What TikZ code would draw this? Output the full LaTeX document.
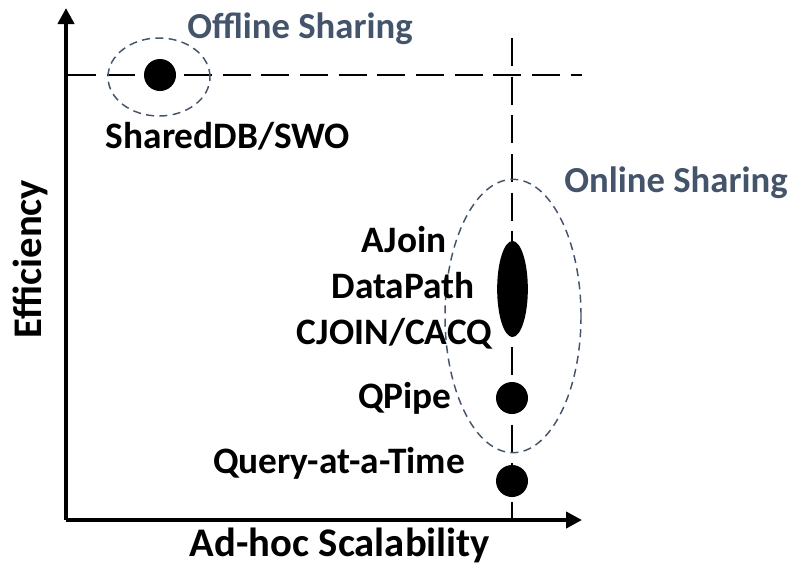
\documentclass[tikz,border=0pt]{standalone}
\usepackage{fontspec}
\setmainfont{Carlito}
\usetikzlibrary{arrows.meta,shapes.geometric}
\definecolor{slate}{HTML}{44546A}
\tikzset{
  axis/.style={line width=3pt,-{Triangle[length=12pt,width=12pt]}},
  guide/.style={line width=2.2pt,dash pattern=on 21pt off 8pt},
  group/.style={draw=slate,line width=1.1pt,dash pattern=on 6pt off 4pt},
  dot/.style={circle,fill=black,inner sep=0pt,minimum size=24pt},
  lbl/.style={font=\bfseries\fontsize{28pt}{30pt}\selectfont,inner sep=0pt,anchor=base},
  axlbl/.style={font=\bfseries\fontsize{30.5pt}{32pt}\selectfont,inner sep=0pt},
  grp/.style={font=\bfseries\fontsize{27.5pt}{29pt}\selectfont,text=slate,inner sep=0pt,anchor=base},
}
\begin{document}
\begin{tikzpicture}[x=0.75pt,y=-0.75pt]
\useasboundingbox (0,0) rectangle (795,572);
% axes
\coordinate (O) at (66,520);
\coordinate (ytop) at (66,8);
\coordinate (xend) at (582,520);
\draw[axis] (O) -- (ytop);
\draw[axis] (O) -- (xend);
% guide lines
\coordinate (hl) at (68,75);
\coordinate (hr) at (582,75);
\coordinate (vt) at (512,38);
\coordinate (vb) at (512,520);
\draw[guide] (hl) -- (hr);
\draw[guide] (vt) -- (vb);
% points
\node[dot] (shared) at (160,75) {};
\node[ellipse,fill=black,inner sep=0pt,minimum width=23pt,minimum height=72pt] (range) at (512.5,289) {};
\node[dot] (qpipe) at (512,398) {};
\node[dot] (qat) at (512,481) {};
% groups
\node[ellipse,group,inner sep=0pt,minimum width=76.5pt,minimum height=58.5pt] (offline) at (159,77) {};
\node[ellipse,group,inner sep=0pt,minimum width=102pt,minimum height=205pt] (online) at (513,316) {};
% labels
\node[grp] (offT) at (300,38) {Offline Sharing};
\node[grp] (onT) at (676,192) {Online Sharing};
\node[lbl] (sdb) at (228,148) {SharedDB/SWO};
\node[lbl] (aj) at (404,252) {AJoin};
\node[lbl] (dp) at (403,298) {DataPath};
\node[lbl] (cj) at (394.5,344) {CJOIN/CACQ};
\node[lbl] (qp) at (405,408) {QPipe};
\node[lbl] (qt) at (339,473) {Query-at-a-Time};
\node[axlbl,anchor=base] (xl) at (340,556) {Ad-hoc Scalability};
\node[axlbl,anchor=center,rotate=90] (yl) at (30,259) {Efficiency};
\end{tikzpicture}
\end{document}
